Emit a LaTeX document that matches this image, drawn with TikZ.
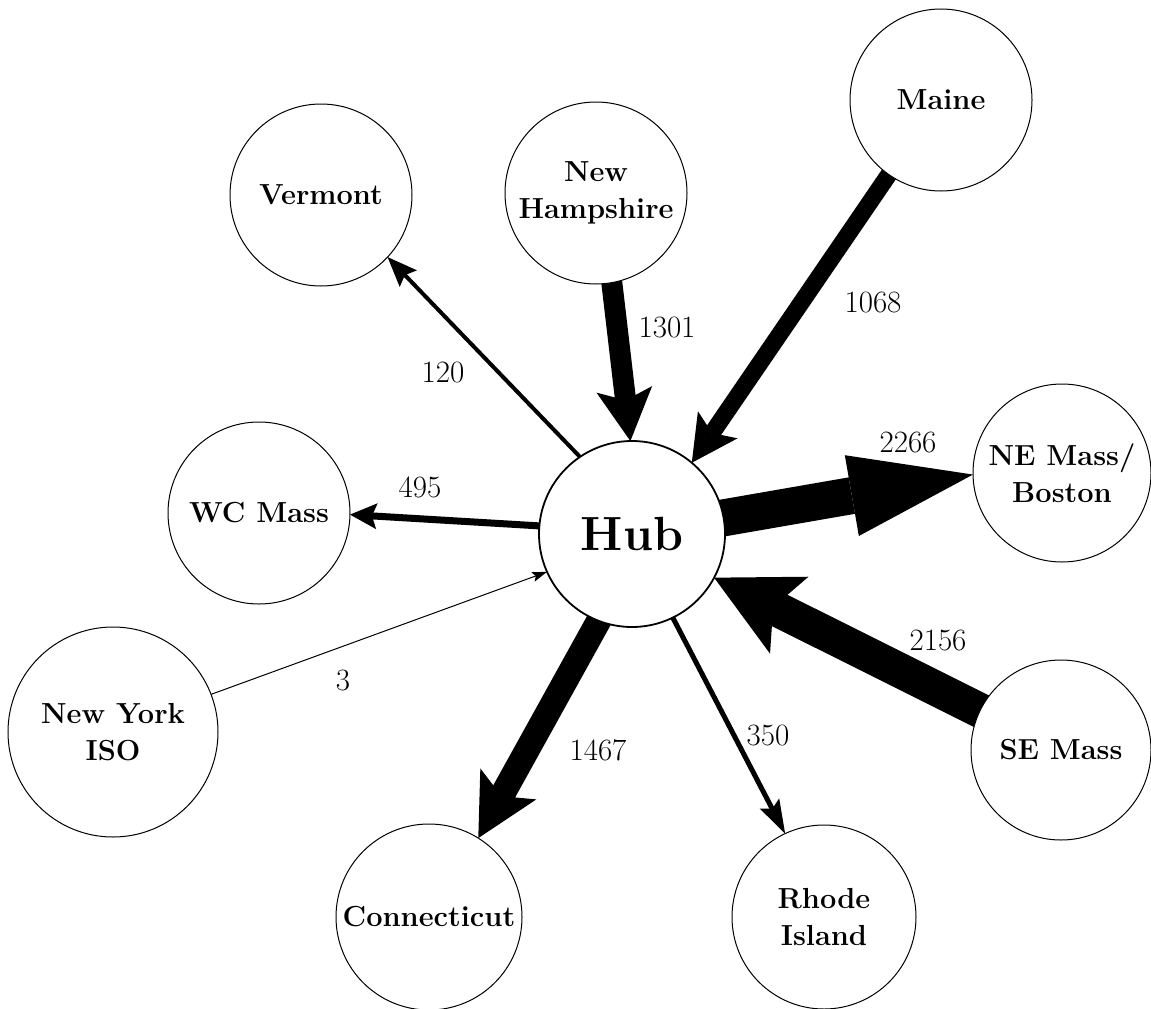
\documentclass[tikz,border=0pt]{standalone}
\usetikzlibrary{arrows.meta,backgrounds}
\tikzset{
  region/.style={circle, draw=black, line width=1pt, fill=white, inner sep=0pt,
    outer sep=0pt, minimum size=182pt, align=center,
    font=\bfseries\fontsize{29}{37}\selectfont},
  hubnode/.style={region, line width=1.8pt, minimum size=186pt,
    font=\bfseries\fontsize{48}{56}\selectfont},
  flowlabel/.style={font=\fontsize{31}{37}\selectfont, inner sep=0pt},
  flow/.style={draw=black, line cap=butt, line join=miter, shorten <=-15pt}
}
\begin{document}
\begin{tikzpicture}[x=1pt, y=-1pt]
\useasboundingbox (0,0) rectangle (1151,1009);

% regions
\node[hubnode] (hub) at (632,534) {Hub};
\node[region] (vt) at (321,195) {Vermont};
\node[region] (nh) at (596,193) {New\\Hampshire};
\node[region] (me) at (941,100) {Maine};
\node[region, minimum size=178pt] (ne) at (1062,473) {NE Mass/\\Boston};
\node[region, minimum size=180pt] (se) at (1061,750) {SE Mass};
\node[region, minimum size=184pt] (ri) at (824,917) {Rhode\\Island};
\node[region, minimum size=186pt] (ct) at (429,917) {Connecticut};
\node[region, minimum size=210pt] (ny) at (113,732) {New York\\ISO};
\node[region] (wc) at (259,513) {WC Mass};

% flows
\begin{scope}[on background layer]
\draw[flow, line width=4pt, -{Stealth[length=30pt, width=24pt, inset=5pt, line width=0pt]}] (hub.124) -- (vt.-43);
\draw[flow, line width=21pt, -{Stealth[length=52pt, width=56pt, inset=11pt, line width=0pt]}] (nh.-80.5) -- (hub.91);
\draw[flow, line width=17pt, -{Stealth[length=46pt, width=48pt, inset=10pt, line width=0pt]}] (me.-125) -- (hub.50);
\draw[flow, line width=7pt, -{Stealth[length=27pt, width=26pt, inset=5pt, line width=0pt]}] (hub.175) -- (wc.-1);
\draw[flow, line width=1pt, -{Stealth[length=15pt, width=10pt, inset=3pt, line width=0pt]}] (ny.21.8) -- (hub.204.6);
\draw[flow, line width=37pt, -{Stealth[length=123pt, width=82pt, inset=0pt, line width=0pt]}] (hub.10) -- (ne.181);
\draw[flow, line width=35pt, -{Stealth[length=84pt, width=86pt, inset=18pt, line width=0pt]}] (se.154) -- (hub.-28.5);
\draw[flow, line width=25pt, -{Stealth[length=62pt, width=64pt, inset=14pt, line width=0pt]}] (hub.-111) -- (ct.58);
\draw[flow, line width=5pt, -{Stealth[length=34pt, width=22pt, inset=6pt, line width=0pt]}] (hub.-64) -- (ri.115.5);
\end{scope}

% flow values
\node[flowlabel] (l120) at (443,372) {120};
\node[flowlabel] (l1301) at (667,327) {1301};
\node[flowlabel] (l1068) at (873,302) {1068};
\node[flowlabel] (l2266) at (908,442) {2266};
\node[flowlabel] (l495) at (420,487) {495};
\node[flowlabel] (l3) at (343,680) {3};
\node[flowlabel] (l2156) at (938,640) {2156};
\node[flowlabel] (l1467) at (598,750) {1467};
\node[flowlabel] (l350) at (768,735) {350};
\end{tikzpicture}
\end{document}
